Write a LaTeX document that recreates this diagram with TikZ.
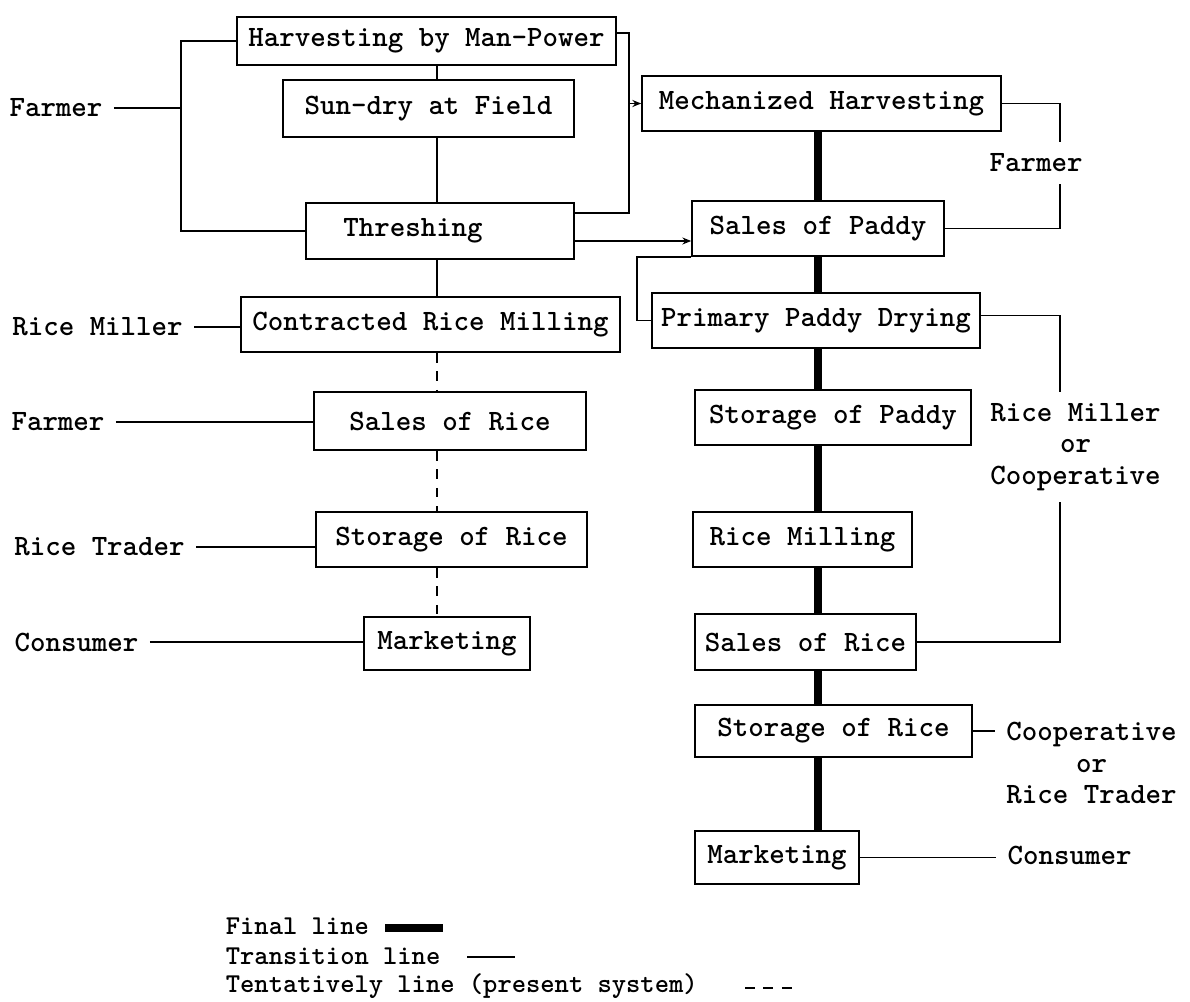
\documentclass[tikz,border=0pt]{standalone}
\usetikzlibrary{arrows.meta}
\begin{document}
\begin{tikzpicture}[x=0.02cm, y=-0.02cm, line width=1pt,
    box/.style={draw, inner sep=0pt, font=\ttfamily\bfseries\fontsize{16.8}{20}\selectfont},
    who/.style={inner sep=6pt, align=center, font=\ttfamily\bfseries\fontsize{16.8}{18}\selectfont},
    key/.style={inner sep=0pt, anchor=west, font=\ttfamily\bfseries\fontsize{15.5}{18}\selectfont},
    final/.style={line width=4.5pt},
    tentative/.style={dash pattern=on 5.5pt off 5pt},
    arr/.style={-{Stealth[length=5pt,width=4pt]}}]
      \useasboundingbox (0,0) rectangle (1190,1001);

      \coordinate (lspine) at (437,0);
      \coordinate (rspine) at (818,0);
      \coordinate (lloop) at (181,0);
      \coordinate (rloop) at (629,0);
      \coordinate (rside) at (1060,0);

      % present system
      \node[box, minimum width=7.58cm, minimum height=0.96cm] (harv) at (426.5,41) {Harvesting by Man-Power};
      \node[box, minimum width=5.82cm, minimum height=1.14cm] (sundry) at (428.5,108.5) {Sun-dry at Field};
      \node[box, minimum width=5.36cm, minimum height=1.12cm] (thresh) at (440,231) {Threshing\hspace*{1.08cm}};
      \node[box, minimum width=7.58cm, minimum height=1.10cm] (contr) at (430.5,324.5) {Contracted Rice Milling};
      \node[box, minimum width=5.44cm, minimum height=1.16cm] (lsales) at (450,421) {Sales of Rice};
      \node[box, minimum width=5.42cm, minimum height=1.10cm] (lstor) at (451.5,539.5) {Storage of Rice};
      \node[box, minimum width=3.32cm, minimum height=1.06cm] (lmkt) at (447,643.5) {Marketing};

      % final system
      \node[box, minimum width=7.18cm, minimum height=1.10cm] (mech) at (821.5,103.5) {Mechanized Harvesting};
      \node[box, minimum width=5.04cm, minimum height=1.10cm] (psales) at (818,228.5) {Sales of Paddy};
      \node[box, minimum width=6.56cm, minimum height=1.10cm] (prim) at (816,320.5) {Primary Paddy Drying};
      \node[box, minimum width=5.52cm, minimum height=1.10cm] (pstor) at (833,417.5) {Storage of Paddy};
      \node[box, minimum width=4.38cm, minimum height=1.10cm] (rmill) at (802.5,539.5) {Rice Milling};
      \node[box, minimum width=4.42cm, minimum height=1.12cm] (rsales) at (805.5,642) {Sales of Rice};
      \node[box, minimum width=5.54cm, minimum height=1.04cm] (rstor) at (833.5,731) {Storage of Rice};
      \node[box, minimum width=3.28cm, minimum height=1.06cm] (rmkt) at (777,857.5) {Marketing};

      % who does it
      \node[who] (farmerA) at (56,108) {Farmer};
      \node[who] (millerA) at (97.5,327) {Rice Miller};
      \node[who] (farmerB) at (58,422) {Farmer};
      \node[who] (traderA) at (99.5,547) {Rice Trader};
      \node[who] (consumerA) at (76.5,642) {Consumer};
      \node[who] (farmerC) at (1036,163) {Farmer};
      \node[who] (millercoop) at (1075.5,447) {Rice Miller\\or\\Cooperative};
      \node[who] (cooptrader) at (1091.5,763) {Cooperative\\or\\Rice Trader};
      \node[who] (consumerB) at (1069.5,855) {Consumer};

      % left column
      \draw (harv.south -| lspine) -- (sundry.north -| lspine);
      \draw (sundry.south -| lspine) -- (thresh.north -| lspine);
      \draw (thresh.south -| lspine) -- (contr.north -| lspine);
      \draw[tentative] (contr.south -| lspine) -- (lsales.north -| lspine);
      \draw[tentative] (lsales.south -| lspine) -- (lstor.north -| lspine);
      \draw[tentative] (lstor.south -| lspine) -- (lmkt.north -| lspine);

      \draw (harv.west) -| (lloop |- farmerA) |- (thresh.west);
      \draw (farmerA) -- (farmerA -| lloop);
      \draw ([yshift=0.16cm]harv.east) -| ([yshift=0.36cm]thresh.east -| rloop) -- ([yshift=0.36cm]thresh.east);
      \draw[arr] (rloop |- mech.west) -- (mech.west);
      \draw[arr] ([yshift=-0.2cm]thresh.east) -- ([yshift=-0.2cm]thresh.east -| psales.west);
      \draw (psales.south west) -| ([xshift=-0.28cm]prim.west) -- (prim.west);

      % final line
      \foreach \up/\dn in {mech/psales, psales/prim, prim/pstor, pstor/rmill, rmill/rsales, rsales/rstor, rstor/rmkt} {
        \draw[final] (\up.south -| rspine) -- (\dn.north -| rspine);
      }

      % actors
      \draw (millerA) -- (millerA -| contr.west);
      \draw (farmerB) -- (farmerB -| lsales.west);
      \draw (traderA) -- (traderA -| lstor.west);
      \draw (consumerA) -- (consumerA -| lmkt.west);
      \draw (mech.east) -| (rside |- farmerC.north);
      \draw (psales.east) -| (rside |- farmerC.south);
      \draw ([yshift=0.1cm]prim.east) -| (rside |- millercoop.north);
      \draw (rsales.east) -| (rside |- millercoop.south);
      \draw (rstor.east) -- (rstor.east -| cooptrader.west);
      \draw (rmkt.east) -- (rmkt.east -| consumerB.west);

      % legend
      \node[key] (kfinal) at (225,926) {Final line};
      \node[key] (ktrans) at (225,956) {Transition line};
      \node[key] (ktent) at (225,986) {Tentatively line (present system)};
      \coordinate (fa) at (385,928);
      \coordinate (fb) at (443,928);
      \coordinate (ta) at (467,957);
      \coordinate (tb) at (515,957);
      \coordinate (da) at (745,988);
      \coordinate (db) at (793,988);
      \draw[final] (fa) -- (fb);
      \draw (ta) -- (tb);
      \draw[tentative] (da) -- (db);
  \end{tikzpicture}
\end{document}
